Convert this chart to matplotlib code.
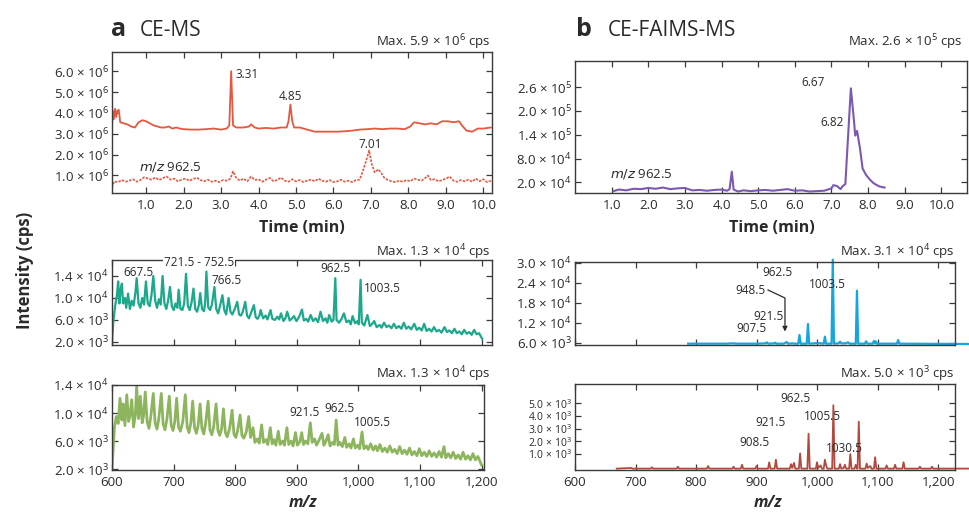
import numpy as np
import matplotlib
matplotlib.use('Agg')
import matplotlib.pyplot as plt

plt.rcParams['font.family'] = ['Open Sans', 'DejaVu Sans']
plt.rcParams['mathtext.default'] = 'regular'

# ---------------- DATA ----------------
# Panel a, top: CE-MS total ion trace (solid) and m/z 962.5 trace (dotted); time in min, intensity in 1e6 cps
t_tic = [0.09, 0.11, 0.14, 0.17, 0.20, 0.23, 0.27, 0.31, 0.40, 0.50, 0.60, 0.70, 0.80, 0.90, 1.00, 1.10,
         1.20, 1.30, 1.40, 1.50, 1.60, 1.70, 1.80, 1.90, 2.00, 2.20, 2.40, 2.60, 2.80, 3.00, 3.15, 3.22,
         3.27, 3.32, 3.40, 3.60, 3.75, 3.80, 3.90, 4.00, 4.20, 4.40, 4.60, 4.75, 4.80, 4.85, 4.90, 4.95,
         5.10, 5.30, 5.50, 5.70, 5.90, 6.10, 6.30, 6.50, 6.70, 6.90, 7.10, 7.30, 7.50, 7.70, 7.90, 8.05,
         8.15, 8.30, 8.45, 8.60, 8.75, 8.90, 9.05, 9.20, 9.35, 9.45, 9.55, 9.70, 9.85, 10.00, 10.20]
i_tic = [3.3, 4.1, 3.7, 4.2, 3.8, 4.1, 4.15, 3.55, 3.5, 3.45, 3.35, 3.3, 3.55, 3.65, 3.6, 3.5,
         3.4, 3.35, 3.3, 3.3, 3.35, 3.25, 3.3, 3.25, 3.22, 3.2, 3.2, 3.22, 3.25, 3.2, 3.25, 3.4,
         6.0, 3.4, 3.3, 3.3, 3.35, 3.45, 3.3, 3.25, 3.28, 3.25, 3.3, 3.3, 3.6, 4.4, 3.6, 3.3,
         3.3, 3.2, 3.1, 3.1, 3.1, 3.1, 3.12, 3.15, 3.2, 3.22, 3.25, 3.22, 3.25, 3.25, 3.22, 3.35,
         3.55, 3.5, 3.45, 3.5, 3.45, 3.6, 3.6, 3.55, 3.6, 3.35, 3.15, 3.1, 3.25, 3.25, 3.3]

t_eic = [0.09, 0.15, 0.25, 0.35, 0.45, 0.55, 0.65, 0.75, 0.85, 0.95, 1.05, 1.15, 1.25, 1.35, 1.45, 1.55,
         1.65, 1.75, 1.85, 1.95, 2.05, 2.15, 2.25, 2.35, 2.45, 2.55, 2.65, 2.75, 2.85, 2.95, 3.05, 3.15,
         3.25, 3.32, 3.40, 3.50, 3.60, 3.70, 3.80, 3.90, 4.00, 4.10, 4.20, 4.30, 4.40, 4.50, 4.60, 4.70,
         4.80, 4.90, 5.00, 5.10, 5.20, 5.30, 5.40, 5.50, 5.60, 5.70, 5.80, 5.90, 6.00, 6.10, 6.20, 6.30,
         6.40, 6.50, 6.60, 6.70, 6.80, 6.88, 6.95, 7.02, 7.10, 7.20, 7.28, 7.35, 7.45, 7.55, 7.65, 7.75,
         7.85, 7.95, 8.05, 8.15, 8.25, 8.35, 8.45, 8.52, 8.60, 8.70, 8.80, 8.90, 9.00, 9.10, 9.20, 9.30,
         9.40, 9.50, 9.60, 9.70, 9.80, 9.90, 10.00, 10.10, 10.20]
i_eic = [0.40, 0.72, 0.68, 0.78, 0.70, 0.75, 0.82, 0.70, 0.78, 0.92, 0.85, 0.80, 0.90, 0.78, 0.88, 0.95,
         0.80, 0.85, 0.72, 0.80, 0.85, 0.75, 0.82, 0.90, 0.78, 0.72, 0.80, 0.70, 0.75, 0.68, 0.78, 0.75,
         0.85, 1.20, 0.90, 0.75, 0.85, 0.72, 0.95, 0.78, 0.82, 0.70, 0.80, 0.88, 0.72, 0.78, 0.90, 0.75,
         0.70, 0.82, 0.72, 0.78, 0.68, 0.75, 0.80, 0.72, 0.85, 0.75, 0.70, 0.78, 0.68, 0.72, 0.80, 0.70,
         0.75, 0.68, 0.78, 0.80, 1.30, 1.75, 2.20, 1.55, 1.15, 1.30, 1.10, 0.90, 0.78, 0.72, 0.68, 0.75,
         0.70, 0.78, 0.72, 0.85, 0.80, 0.75, 0.88, 1.00, 0.78, 0.82, 0.72, 0.78, 0.85, 0.95, 0.75, 0.70,
         0.78, 0.72, 0.80, 0.70, 0.85, 0.72, 0.82, 0.68, 0.75]

# Panel a, middle: CE-MS spectrum (intensity in 1e3 cps)
mz_a2 = [600, 602, 605, 608, 610, 612, 614, 616, 618, 621, 623, 626, 629, 632, 635, 638, 640, 643, 646, 649,
         652, 655, 658, 661, 664, 667, 670, 673, 676, 679, 682, 685, 688, 691, 694, 697, 700, 703, 706, 708,
         711, 714, 717, 720, 723, 726, 729, 732, 735, 738, 741, 743, 746, 749, 751, 753, 756, 759, 762, 766,
         769, 772, 775, 779, 782, 785, 789, 792, 795, 799, 803, 806, 809, 812, 816, 819, 822, 826, 830, 833,
         836, 839, 841, 845, 849, 852, 857, 860, 864, 868, 871, 874, 878, 881, 884, 888, 891, 895, 899, 903,
         908, 911, 915, 918, 922, 926, 930, 934, 938, 942, 946, 949, 952, 956, 959, 962, 964, 968, 972, 976,
         980, 984, 987, 990, 994, 998, 1000, 1003, 1005, 1009, 1014, 1018, 1021, 1025, 1029, 1034, 1037, 1041,
         1045, 1049, 1053, 1057, 1061, 1065, 1069, 1073, 1077, 1081, 1085, 1090, 1094, 1098, 1102, 1106, 1110,
         1114, 1118, 1122, 1126, 1130, 1134, 1139, 1143, 1147, 1151, 1155, 1159, 1163, 1167, 1171, 1175, 1179,
         1183, 1187, 1191, 1195, 1198, 1200]
in_a2 = [1.8, 5.5, 8.5, 10.5, 13.0, 9.0, 11.5, 12.6, 9.0, 10.0, 8.2, 10.8, 8.0, 9.5, 8.6, 11.0, 13.6, 9.0, 8.2, 10.0,
         8.8, 13.0, 9.0, 8.5, 10.5, 14.0, 9.5, 8.2, 9.8, 8.8, 14.0, 9.0, 8.0, 9.5, 12.0, 8.5, 7.8, 9.0, 8.2, 11.5,
         8.0, 7.8, 9.0, 14.4, 8.5, 7.8, 9.2, 11.7, 8.0, 7.5, 8.8, 10.9, 8.0, 7.6, 9.0, 14.8, 8.3, 7.8, 8.8, 12.0,
         8.0, 7.2, 8.5, 10.5, 7.8, 7.0, 10.0, 7.5, 7.0, 8.0, 9.3, 7.0, 6.8, 7.5, 9.3, 6.8, 6.3, 7.5, 8.7, 6.5,
         6.2, 6.8, 7.8, 6.3, 6.8, 6.1, 7.8, 6.2, 6.0, 6.6, 6.1, 7.2, 5.8, 6.3, 7.5, 5.9, 6.2, 6.7, 5.8, 6.5,
         7.9, 5.9, 6.2, 5.7, 6.9, 5.8, 6.3, 5.6, 7.5, 5.8, 6.3, 5.5, 6.9, 5.7, 6.0, 13.6, 6.0, 5.5, 6.2, 7.2,
         5.6, 5.9, 5.2, 6.7, 5.4, 5.8, 5.2, 13.3, 5.5, 5.0, 6.9, 4.9, 5.2, 5.8, 4.7, 5.1, 4.6, 5.5,
         4.7, 5.0, 4.5, 5.3, 4.5, 4.9, 4.4, 5.5, 4.4, 4.8, 4.3, 5.3, 4.2, 4.6, 4.1, 5.3, 4.0,
         4.4, 3.9, 4.7, 3.9, 4.2, 3.7, 4.7, 3.8, 4.1, 3.6, 4.4, 3.6, 3.9, 3.4, 4.2, 3.5, 3.8,
         3.3, 4.2, 3.4, 3.6, 3.0, 2.6]

# Panel a, bottom: CE-MS spectrum, second sample (intensity in 1e3 cps)
mz_a3 = [600, 602, 604, 607, 610, 613, 616, 618, 621, 624, 627, 629, 632, 635, 638, 640, 643, 646, 649, 651,
         654, 657, 660, 663, 667, 670, 673, 676, 680, 683, 686, 689, 693, 696, 699, 702, 705, 708, 711, 715,
         719, 722, 725, 728, 731, 734, 737, 740, 743, 746, 749, 752, 756, 759, 762, 765, 769, 772, 775, 778,
         781, 784, 787, 791, 795, 798, 801, 804, 808, 811, 814, 818, 822, 825, 829, 832, 836, 839, 843, 846,
         850, 853, 857, 860, 863, 866, 870, 873, 877, 880, 884, 887, 891, 894, 898, 901, 905, 908, 911, 914,
         918, 922, 925, 929, 932, 936, 941, 944, 947, 951, 954, 958, 961, 964, 967, 970, 974, 978, 981, 985,
         988, 992, 995, 999, 1002, 1006, 1009, 1013, 1016, 1020, 1024, 1028, 1031, 1035, 1039, 1043, 1047,
         1051, 1055, 1059, 1063, 1067, 1071, 1075, 1079, 1083, 1087, 1091, 1095, 1099, 1103, 1107, 1111,
         1115, 1119, 1123, 1127, 1131, 1135, 1139, 1142, 1146, 1150, 1154, 1158, 1162, 1166, 1170, 1174,
         1178, 1182, 1186, 1190, 1194, 1197, 1200]
in_a3 = [2.0, 5.0, 8.0, 9.5, 8.5, 12.1, 9.0, 11.3, 8.2, 12.6, 8.8, 9.5, 11.9, 8.0, 9.8, 13.8, 9.2, 12.4, 8.6, 9.5,
         13.0, 8.8, 7.8, 9.5, 12.8, 8.6, 7.7, 9.2, 12.8, 8.5, 7.6, 9.0, 12.4, 8.3, 7.5, 8.8, 12.1, 8.0, 7.4, 8.8,
         12.6, 8.0, 7.2, 8.6, 11.7, 7.9, 7.1, 8.3, 11.3, 7.8, 7.0, 8.5, 11.7, 7.6, 6.9, 8.0, 11.3, 7.5, 6.8, 7.8,
         10.6, 7.2, 6.6, 7.8, 10.4, 7.0, 6.5, 7.5, 9.7, 6.8, 6.4, 7.3, 9.5, 6.5, 7.9, 5.8, 6.3, 5.7, 8.3, 5.8,
         6.2, 5.5, 7.9, 5.6, 6.2, 5.4, 7.4, 5.5, 6.0, 5.4, 7.9, 5.5, 6.0, 5.3, 7.2, 5.4, 5.9, 7.2, 5.5, 6.0,
         5.6, 8.6, 5.8, 6.3, 5.4, 6.1, 7.1, 5.4, 5.9, 6.9, 5.3, 5.8, 5.5, 9.0, 5.4, 5.8, 5.2, 6.5, 5.1, 5.6,
         5.0, 6.3, 5.0, 5.4, 4.9, 7.3, 4.9, 5.3, 4.8, 5.6, 4.7, 5.3, 4.6, 5.5, 4.5, 5.0, 4.4,
         5.3, 4.4, 4.8, 4.2, 5.2, 4.2, 4.7, 4.1, 5.0, 4.0, 4.5, 3.9, 4.9, 3.9, 4.4, 3.8,
         4.6, 3.8, 4.3, 3.7, 4.5, 3.7, 5.2, 3.6, 4.2, 3.6, 4.4, 3.5, 4.0, 3.4, 4.4, 3.4,
         3.9, 3.3, 4.2, 3.3, 3.8, 3.2, 2.6]

# Panel b, top: CE-FAIMS-MS m/z 962.5 trace (time in min, intensity in 1e3 cps)
t_b1 = [1.05, 1.2, 1.4, 1.6, 1.8, 2.0, 2.2, 2.4, 2.6, 2.8, 3.0, 3.2, 3.4, 3.6, 3.8, 4.0, 4.15, 4.22, 4.28, 4.33,
        4.45, 4.6, 4.8, 5.0, 5.2, 5.4, 5.6, 5.8, 6.0, 6.2, 6.4, 6.6, 6.8, 7.0, 7.05, 7.15, 7.25, 7.3, 7.38, 7.45,
        7.53, 7.6, 7.65, 7.7, 7.78, 7.85, 7.95, 8.05, 8.15, 8.3, 8.45]
i_b1 = [-2, 2, 0, 4, 3, 6, 4, 7, 3, 5, 6, 0, 1, -1, 1, 2, -1, 3, 47, 2,
        -3, 0, -2, 0, 1, -1, 1, 3, -1, 0, -3, -2, -1, 5, 13, 11, 3, 10, 16, 130,
        257, 190, 138, 150, 105, 55, 38, 27, 18, 10, 7]

# Panel b, middle: CE-FAIMS-MS spectrum (intensity in 1e3 cps)
mz_b2 = [787, 850, 860, 870, 900, 915, 917, 919, 930, 931, 933, 945, 950, 952, 960, 963, 969, 971, 973, 983,
         985, 987, 996, 1000, 1011, 1013, 1015, 1024, 1026, 1028, 1036, 1038, 1040, 1048, 1051, 1054, 1064,
         1066, 1068, 1079, 1081, 1083, 1092, 1094, 1096, 1097, 1099, 1132, 1134, 1136, 1250]
in_b2 = [5.8, 5.8, 5.9, 5.8, 5.8, 5.9, 6.2, 5.8, 5.9, 6.1, 5.8, 5.8, 6.3, 5.8, 5.9, 5.8, 5.8, 8.4, 5.8, 5.8,
         11.7, 5.8, 5.9, 6.0, 5.8, 7.9, 5.8, 5.8, 31.0, 5.8, 5.9, 6.4, 5.9, 5.9, 6.2, 5.8, 5.8,
         21.7, 5.8, 5.8, 6.5, 5.8, 5.8, 6.6, 5.9, 6.5, 5.8, 5.8, 6.9, 5.8, 5.7]

# Panel b, bottom: CE-FAIMS-MS spectrum, second sample (intensity in 1e3 cps)
mz_b3 = [669, 693, 695, 725, 727, 729, 768, 770, 772, 818, 820, 822, 860, 862, 864, 874, 876, 878, 898, 900,
         902, 919, 921, 923, 930, 932, 934, 955, 957, 959, 962, 964, 970, 972, 974, 984, 986, 988, 998, 1000,
         1002, 1006, 1008, 1011, 1013, 1015, 1017, 1025, 1027, 1029, 1036, 1038, 1040, 1044, 1046, 1048, 1053,
         1055, 1057, 1062, 1064, 1066, 1067, 1069, 1071, 1080, 1082, 1084, 1088, 1090, 1094, 1096, 1098, 1113,
         1115, 1117, 1127, 1129, 1131, 1141, 1143, 1145, 1168, 1170, 1172, 1188, 1190, 1192, 1250]
in_b3 = [-0.15, -0.1, -0.15, -0.15, -0.05, -0.15, -0.15, 0.0, -0.15, -0.15, 0.05, -0.15, -0.15, 0.0, -0.15,
         -0.15, 0.15, -0.15, -0.15, 0.05, -0.15, -0.15, 0.35, -0.15, -0.15, 0.55, -0.15, -0.15, 0.2, -0.1, 0.3,
         -0.15, -0.15, 1.05, -0.15, -0.15, 2.6, -0.15, -0.15, 0.35, -0.1, 0.1, -0.15, -0.15, 0.55, 0.1, -0.15,
         -0.15, 4.85, -0.15, -0.15, 0.2, -0.15, -0.1, 0.15, -0.15, -0.15, 1.0, -0.15, -0.15, 0.15, -0.15, -0.15,
         3.55, -0.15, -0.15, 0.25, -0.1, 0.05, -0.15, -0.15, 0.75, -0.15, -0.15, 0.1, -0.15, -0.15, 0.15, -0.15,
         -0.15, 0.35, -0.15, -0.15, 0.0, -0.15, -0.15, 0.0, -0.15, -0.15]

# Tick values
time_ticks = [1, 2, 3, 4, 5, 6, 7, 8, 9, 10]
mz_ticks = [600, 700, 800, 900, 1000, 1100, 1200]
mz_ticklabels = ['600', '700', '800', '900', '1,000', '1,100', '1,200']
yt_a1 = [1e6, 2e6, 3e6, 4e6, 5e6, 6e6]
yt_a2 = [2e3, 6e3, 1e4, 1.4e4]
yt_b1 = [2e4, 8e4, 1.4e5, 2.0e5, 2.6e5]
yt_b2 = [6e3, 1.2e4, 1.8e4, 2.4e4, 3.0e4]
yt_b3 = [1e3, 2e3, 3e3, 4e3, 5e3]

# ---------------- FIGURE ----------------
W, H = 969, 512
fig = plt.figure(figsize=(W / 100, H / 100), dpi=100)
SPC = '#3a3a3a'
TXT = '#2a2a2a'


def rect(l, t, r, b):
    return [l / W, 1 - b / H, (r - l) / W, (b - t) / H]


def ftxt(x, y, s, **kw):
    kw.setdefault('color', TXT)
    fig.text(x / W, 1 - y / H, s, **kw)


def sci(v):
    e = int(np.floor(np.log10(v) + 1e-9))
    m = v / 10 ** e
    return rf'${m:.1f}\;×\;10^{{{e}}}$'


def style(ax, yticks, xticks, xlabels=None, ysize=9.5):
    for sp in ax.spines.values():
        sp.set_color(SPC)
        sp.set_linewidth(1.0)
    ax.tick_params(direction='in', top=True, right=True, length=4, width=0.9,
                   color=SPC, labelsize=ysize, pad=2, labelcolor=TXT)
    ax.set_yticks(yticks, labels=[sci(v) for v in yticks])
    if xlabels is None:
        ax.set_xticks(xticks)
        ax.tick_params(axis='x', labelbottom=False)
    else:
        ax.set_xticks(xticks, labels=xlabels)
        ax.tick_params(axis='x', labelsize=9.5, pad=4)


C_A1 = '#E5573F'
C_A2 = '#1BA88B'
C_A3 = '#8DB55E'
C_B1 = '#7B59B2'
C_B2 = '#14A6DF'
C_B3 = '#B2493D'

# --- a top
ax = fig.add_axes(rect(112, 52, 492, 193))
ax.plot(t_tic, np.array(i_tic) * 1e6, color=C_A1, lw=1.3)
ax.plot(t_eic, np.array(i_eic) * 1e6, color=C_A1, lw=1.2, ls=(0, (1.5, 0.8)))
ax.set_xlim(0.09, 10.23)
ax.set_ylim(0.16e6, 6.92e6)
style(ax, yt_a1, time_ticks, [f'{v:.1f}' for v in time_ticks])

# --- a middle
ax = fig.add_axes(rect(112, 260, 492, 345))
ax.plot(mz_a2, np.array(in_a2) * 1e3, color=C_A2, lw=1.6)
ax.set_xlim(600, 1216)
ax.set_ylim(1.45e3, 16.9e3)
style(ax, yt_a2, mz_ticks)

# --- a bottom
ax = fig.add_axes(rect(112, 385, 484, 470))
ax.plot(mz_a3, np.array(in_a3) * 1e3, color=C_A3, lw=2.0)
ax.set_xlim(600, 1204)
ax.set_ylim(1.86e3, 14e3)
style(ax, yt_a2, mz_ticks, mz_ticklabels)

# --- b top
ax = fig.add_axes(rect(575, 61, 967, 193))
ax.plot(t_b1, np.array(i_b1) * 1e3, color=C_B1, lw=1.5)
ax.set_xlim(0.0, 10.7)
ax.set_ylim(-6.7e3, 3.26e5)
style(ax, yt_b1, time_ticks, [f'{v:.1f}' for v in time_ticks])

# --- b middle
ax = fig.add_axes(rect(575, 262, 955, 345))
ax.plot(mz_b2, np.array(in_b2) * 1e3, color=C_B2, lw=1.6, clip_on=False)
ax.set_xlim(600, 1228)
ax.set_ylim(5.4e3, 30.3e3)
style(ax, yt_b2, mz_ticks)
ax.plot([919, 947, 947], [21.9e3, 19.5e3, 11.5e3], color=TXT, lw=0.9)
ax.annotate('', xy=(947, 8.6e3), xytext=(947, 12e3),
            arrowprops=dict(arrowstyle='-|>', color=TXT, lw=0.9, mutation_scale=7))

# --- b bottom
ax = fig.add_axes(rect(575, 384, 955, 470))
ax.plot(mz_b3, np.array(in_b3) * 1e3, color=C_B3, lw=1.3, clip_on=False)
ax.set_xlim(600, 1228)
ax.set_ylim(-0.26e3, 6.52e3)
style(ax, yt_b3, mz_ticks, mz_ticklabels, ysize=7.5)

# ---------------- TEXT ----------------
ftxt(111, 30, 'a', fontsize=18, fontweight='bold', ha='left', va='center')
ftxt(140, 30, 'CE-MS', fontsize=15, ha='left', va='center')
ftxt(576, 30, 'b', fontsize=18, fontweight='bold', ha='left', va='center')
ftxt(608, 30, 'CE-FAIMS-MS', fontsize=15, ha='left', va='center')

mfs = 9.5
ftxt(491, 42, r'Max. $5.9\ ×\ 10^{6}$ cps', fontsize=mfs, ha='right', va='center')
ftxt(491, 252, r'Max. $1.3\ ×\ 10^{4}$ cps', fontsize=mfs, ha='right', va='center')
ftxt(491, 374, r'Max. $1.3\ ×\ 10^{4}$ cps', fontsize=mfs, ha='right', va='center')
ftxt(963, 42, r'Max. $2.6\ ×\ 10^{5}$ cps', fontsize=mfs, ha='right', va='center')
ftxt(955, 252, r'Max. $3.1\ ×\ 10^{4}$ cps', fontsize=mfs, ha='right', va='center')
ftxt(955, 374, r'Max. $5.0\ ×\ 10^{3}$ cps', fontsize=mfs, ha='right', va='center')

ftxt(302, 228, 'Time (min)', fontsize=11.5, fontweight='bold', ha='center', va='center')
ftxt(772, 228, 'Time (min)', fontsize=11.5, fontweight='bold', ha='center', va='center')
ftxt(303, 503, 'm/z', fontsize=11.5, fontweight='bold', style='italic', ha='center', va='center')
ftxt(768, 503, 'm/z', fontsize=11.5, fontweight='bold', style='italic', ha='center', va='center')
ftxt(25, 270, 'Intensity (cps)', fontsize=12, fontweight='bold', rotation=90, ha='center', va='center')

fs = 8.5
# a top
ftxt(236, 74, '3.31', fontsize=fs, ha='left', va='center')
ftxt(290, 97, '4.85', fontsize=fs, ha='center', va='center')
ftxt(370, 145, '7.01', fontsize=fs, ha='center', va='center')
ftxt(139, 167, r'$\it{m/z}$ 962.5', fontsize=9.5, ha='left', va='center')
# a middle
ftxt(138, 272, '667.5', fontsize=fs, ha='center', va='center')
ftxt(199, 263, '721.5 - 752.5', fontsize=fs, ha='center', va='center',
     bbox=dict(facecolor='white', edgecolor='none', pad=0.5), zorder=10)
ftxt(227, 281, '766.5', fontsize=fs, ha='center', va='center')
ftxt(335, 269, '962.5', fontsize=fs, ha='center', va='center')
ftxt(382, 289, '1003.5', fontsize=fs, ha='center', va='center')
# a bottom
ftxt(304, 413, '921.5', fontsize=fs, ha='center', va='center')
ftxt(339, 409, '962.5', fontsize=fs, ha='center', va='center')
ftxt(372, 423, '1005.5', fontsize=fs, ha='center', va='center')
# b top
ftxt(813, 82, '6.67', fontsize=fs, ha='center', va='center')
ftxt(832, 122, '6.82', fontsize=fs, ha='center', va='center')
ftxt(610, 174, r'$\it{m/z}$ 962.5', fontsize=9.5, ha='left', va='center')
# b middle
ftxt(777, 272, '962.5', fontsize=fs, ha='center', va='center')
ftxt(827, 284, '1003.5', fontsize=fs, ha='center', va='center')
ftxt(750, 291, '948.5', fontsize=fs, ha='center', va='center')
ftxt(768, 316, '921.5', fontsize=fs, ha='center', va='center')
ftxt(751, 329, '907.5', fontsize=fs, ha='center', va='center')
# b bottom
ftxt(795, 398, '962.5', fontsize=fs, ha='center', va='center')
ftxt(822, 417, '1005.5', fontsize=fs, ha='center', va='center')
ftxt(771, 423, '921.5', fontsize=fs, ha='center', va='center')
ftxt(754, 443, '908.5', fontsize=fs, ha='center', va='center')
ftxt(844, 449, '1030.5', fontsize=fs, ha='center', va='center')

fig.savefig('out.png', dpi=100, facecolor='white')
